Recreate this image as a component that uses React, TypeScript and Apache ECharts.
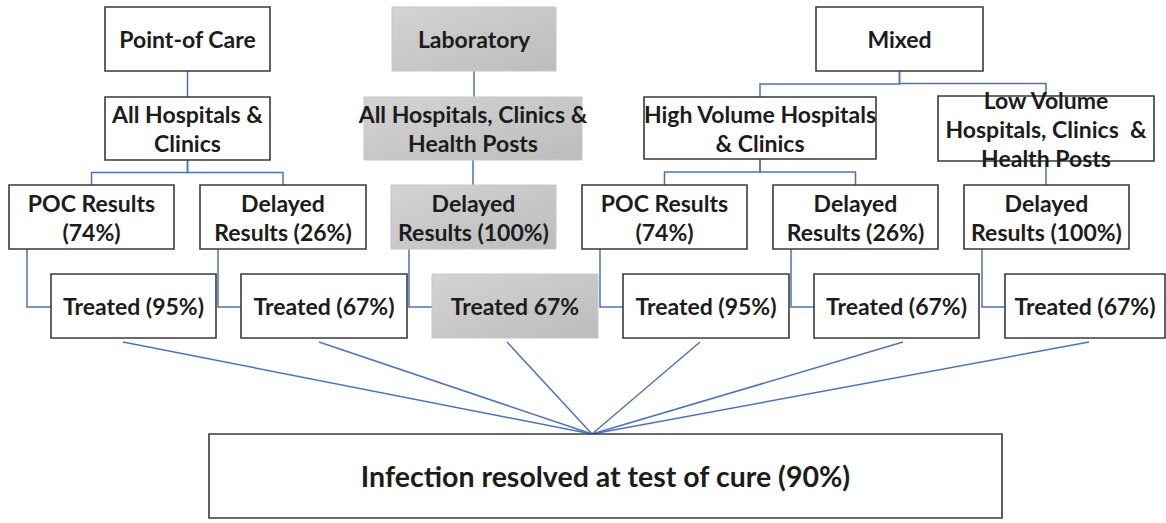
import React, { useEffect, useRef } from "react";
import * as echarts from "echarts";

// ---- Content (labels / values) ----
const methodLabels = ["Point-of Care", "Laboratory", "Mixed"];
const settingLabels = [
  "All Hospitals &\nClinics",
  "All Hospitals, Clinics &\nHealth Posts",
  "High Volume Hospitals\n& Clinics",
  "Low Volume\nHospitals, Clinics  &\nHealth Posts",
];
const resultLabels = [
  "POC Results\n(74%)",
  "Delayed\nResults (26%)",
  "Delayed\nResults (100%)",
  "POC Results\n(74%)",
  "Delayed\nResults (26%)",
  "Delayed\nResults (100%)",
];
const treatedLabels = [
  "Treated (95%)",
  "Treated (67%)",
  "Treated 67%",
  "Treated (95%)",
  "Treated (67%)",
  "Treated (67%)",
];
const outcomeLabel = "Infection resolved at test of cure (90%)";

// ---- Structure ----
const settingParent = [0, 1, 2, 2];
const resultParent = [0, 0, 1, 2, 2, 3];
const methodShaded = [false, true, false];
const settingShaded = [false, true, false, false];
const resultShaded = [false, false, true, false, false, false];
const treatedShaded = [false, false, true, false, false, false];

// ---- Layout (x, y, w, h) ----
type Box = [number, number, number, number];
const methodBoxes: Box[] = [
  [105, 7, 165, 64],
  [392, 7, 164, 64],
  [816, 7, 167, 64],
];
const settingBoxes: Box[] = [
  [105, 97, 165, 63],
  [364, 97, 218, 63],
  [644, 97, 232, 62],
  [938, 96, 216, 65],
];
const resultBoxes: Box[] = [
  [9, 185, 165, 64],
  [200, 185, 166, 64],
  [391, 185, 165, 64],
  [582, 185, 165, 64],
  [773, 185, 165, 64],
  [964, 185, 165, 64],
];
const treatedBoxes: Box[] = [
  [51, 274, 165, 64],
  [241, 274, 166, 64],
  [432, 274, 166, 64],
  [623, 274, 166, 64],
  [814, 274, 165, 64],
  [1005, 274, 160, 64],
];
const outcomeBox: Box = [209, 434, 793, 84];
const fanStartX = [123, 319, 507, 700, 903, 1089];
const fanStartY = 342;
const hub = [592, 434];

const LINE = "#4e72b8";
const BORDER = "#3a3a3a";
const TEXT = "#1c1c1c";
const FONT = "Lato, 'Open Sans', sans-serif";

function boxEl(b: Box, shaded: boolean) {
  return {
    type: "rect",
    z: 10,
    shape: { x: b[0], y: b[1], width: b[2], height: b[3] },
    style: shaded
      ? {
          fill: new echarts.graphic.LinearGradient(0, 0, 1, 1, [
            { offset: 0, color: "#d3d3d3" },
            { offset: 1, color: "#bcbcbc" },
          ]),
          stroke: "#c6c6c6",
          lineWidth: 1,
        }
      : { fill: "#ffffff", stroke: BORDER, lineWidth: 1.6 },
  };
}

function textEl(b: Box, text: string, size = 23, lh = 29) {
  return {
    type: "text",
    z: 20,
    x: b[0] + b[2] / 2,
    y: b[1] + b[3] / 2,
    style: {
      text,
      align: "center",
      verticalAlign: "middle",
      textAlign: "center",
      textVerticalAlign: "middle",
      fontFamily: FONT,
      fontWeight: "bold",
      fontSize: size,
      lineHeight: lh,
      fill: TEXT,
    },
  };
}

function lineEl(points: number[][]) {
  return {
    type: "polyline",
    z: 5,
    shape: { points },
    style: { stroke: LINE, lineWidth: 1.5, fill: null },
  };
}

function elbow(p: Box, c: Box) {
  const pcx = p[0] + p[2] / 2;
  const pb = p[1] + p[3];
  const ccx = c[0] + c[2] / 2;
  const ct = c[1];
  const my = (pb + ct) / 2;
  if (Math.abs(pcx - ccx) < 4) {
    return lineEl([
      [pcx, pb],
      [pcx, ct],
    ]);
  }
  return lineEl([
    [pcx, pb],
    [pcx, my],
    [ccx, my],
    [ccx, ct],
  ]);
}

function buildGraphic() {
  const els: any[] = [];
  settingBoxes.forEach((b, i) => els.push(elbow(methodBoxes[settingParent[i]], b)));
  resultBoxes.forEach((b, i) => els.push(elbow(settingBoxes[resultParent[i]], b)));
  resultBoxes.forEach((r, i) => {
    const t = treatedBoxes[i];
    const x = r[0] + 18;
    const cy = t[1] + t[3] / 2 + 1;
    els.push(
      lineEl([
        [x, r[1] + r[3]],
        [x, cy],
        [t[0], cy],
      ])
    );
  });
  fanStartX.forEach((x) =>
    els.push(
      lineEl([
        [x, fanStartY],
        [hub[0], hub[1]],
      ])
    )
  );
  methodBoxes.forEach((b, i) => {
    els.push(boxEl(b, methodShaded[i]));
    els.push(textEl(b, methodLabels[i]));
  });
  settingBoxes.forEach((b, i) => {
    els.push(boxEl(b, settingShaded[i]));
    els.push(textEl(b, settingLabels[i]));
  });
  resultBoxes.forEach((b, i) => {
    els.push(boxEl(b, resultShaded[i]));
    els.push(textEl(b, resultLabels[i]));
  });
  treatedBoxes.forEach((b, i) => {
    els.push(boxEl(b, treatedShaded[i]));
    els.push(textEl(b, treatedLabels[i]));
  });
  els.push(boxEl(outcomeBox, false));
  els.push(textEl(outcomeBox, outcomeLabel, 28.5, 34));
  return els;
}

export default function App() {
  const ref = useRef<HTMLDivElement>(null);
  useEffect(() => {
    if (!ref.current) return;
    const chart = echarts.init(ref.current, undefined, { renderer: "svg" });
    chart.setOption({
      animation: false,
      backgroundColor: "#ffffff",
      graphic: { elements: buildGraphic() },
    });
    return () => chart.dispose();
  }, []);
  return (
    <div
      ref={ref}
      style={{ position: "fixed", left: 0, top: 0, width: 1166, height: 523, background: "#fff" }}
    />
  );
}
